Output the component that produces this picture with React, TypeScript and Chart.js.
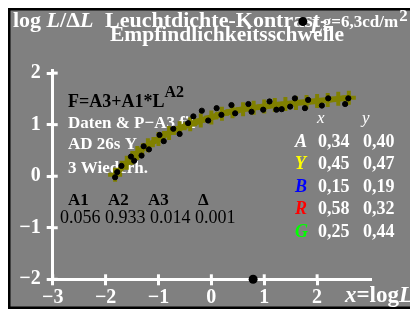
import React, { useEffect, useRef } from "react";
import { Chart, registerables } from "chart.js";

Chart.register(...registerables);

// ---- data ----
const curveX = [-1.82, -1.6, -1.4, -1.2, -1.0, -0.8, -0.6, -0.4, -0.2, 0.0, 0.2, 0.4, 0.6, 0.8, 1.0, 1.2, 1.4, 1.6, 1.8, 2.0, 2.2, 2.4, 2.6];
const curveY = [0.03, 0.26, 0.45, 0.6, 0.72, 0.84, 0.93, 1.01, 1.08, 1.14, 1.21, 1.26, 1.3, 1.33, 1.35, 1.38, 1.4, 1.42, 1.44, 1.46, 1.48, 1.5, 1.52];

const dotX = [-1.82, -1.78, -1.7, -1.52, -1.46, -1.32, -1.28, -1.18, -0.98, -0.9, -0.72, -0.6, -0.44, -0.34, -0.18, -0.06, 0.1, 0.19, 0.38, 0.45, 0.7, 0.76, 0.98, 1.1, 1.23, 1.33, 1.49, 1.58, 1.77, 1.83, 2.09, 2.21, 2.53, 2.59];
const dotY = [-0.02, 0.08, 0.2, 0.38, 0.3, 0.4, 0.58, 0.52, 0.8, 0.68, 0.92, 0.82, 1.03, 1.16, 1.27, 1.08, 1.32, 1.19, 1.38, 1.22, 1.4, 1.25, 1.29, 1.45, 1.29, 1.3, 1.35, 1.51, 1.32, 1.48, 1.37, 1.51, 1.4, 1.51];

const markX = [1.73, 0.79];
const markY = [3.0, -2.0];

const xTicks = [-3, -2, -1, 0, 1, 2];
const yTicks = [-2, -1, 0, 1, 2];

const paramNames = ["A1", "A2", "A3", "Δ"];
const paramValues = ["0.056", "0.933", "0.014", "0.001"];

const rowLabels = ["A", "Y", "B", "R", "G"];
const rowColors = ["#ffffff", "#ffff00", "#0000ff", "#ff0000", "#00ff00"];
const rowXValues = ["0,34", "0,45", "0,15", "0,58", "0,25"];
const rowYValues = ["0,40", "0,47", "0,19", "0,32", "0,44"];

const SERIF = '"Liberation Serif", "Times New Roman", serif';
const W = 410;
const H = 301;

type Part = [string, string, string];

function run(ctx: CanvasRenderingContext2D, parts: Part[], x: number, y: number) {
  let cx = x;
  for (const [t, f, c] of parts) {
    ctx.font = f;
    ctx.fillStyle = c;
    ctx.fillText(t, cx, y);
    cx += ctx.measureText(t).width;
  }
  return cx;
}

const fmt = (v: number) => (v < 0 ? "\u2212" + Math.abs(v) : String(v));

const framePlugin = {
  id: "frame",
  beforeDraw(chart: any) {
    const ctx = chart.ctx as CanvasRenderingContext2D;
    ctx.save();
    ctx.fillStyle = "#000000";
    ctx.fillRect(0, 0, W, H);
    ctx.fillStyle = "#808080";
    ctx.fillRect(2.5, 2.5, W - 5, H - 5);
    ctx.restore();
  },
  beforeDatasetsDraw(chart: any) {
    const ctx = chart.ctx as CanvasRenderingContext2D;
    const xs = chart.scales.x;
    const ys = chart.scales.y;
    ctx.save();
    ctx.strokeStyle = "#ffffff";
    ctx.lineWidth = 3;
    const ca = chart.chartArea;
    for (const v of xTicks) {
      const px = xs.getPixelForValue(v);
      ctx.beginPath();
      ctx.moveTo(px, ca.bottom);
      ctx.lineTo(px, ca.bottom - 5);
      ctx.stroke();
    }
    for (const v of yTicks) {
      const py = ys.getPixelForValue(v);
      ctx.beginPath();
      ctx.moveTo(ca.left, py);
      ctx.lineTo(ca.left + 5, py);
      ctx.stroke();
    }

    ctx.textBaseline = "alphabetic";
    ctx.textAlign = "left";
    const W_ = "#ffffff";
    const K = "#000000";
    const b22 = `bold 22px ${SERIF}`;
    const bi22 = `italic bold 22px ${SERIF}`;

    run(ctx, [["log ", b22, W_], ["L", bi22, W_], ["/\u0394", b22, W_], ["L", bi22, W_]], 5, 19);
    run(ctx, [["Leuchtdichte-Kontrast-", b22, W_]], 97, 19);
    run(ctx, [["Empfindlichkeitsschwelle", `bold 21.5px ${SERIF}`, W_]], 102, 33);

    const e = run(ctx, [["L", `italic bold 21px ${SERIF}`, W_]], 302, 25);
    const e2 = run(ctx, [["g=6,3cd/m", `bold 17px ${SERIF}`, W_]], e, 19);
    run(ctx, [["2", `bold 17px ${SERIF}`, W_]], e2 + 1, 13);

    const f = run(ctx, [["F=A3+A1*L", `bold 18px ${SERIF}`, K]], 60, 99);
    run(ctx, [["A2", `bold 16px ${SERIF}`, K]], f, 89);

    const b17 = `bold 17px ${SERIF}`;
    run(ctx, [["Daten & P\u2212A3 fit", b17, W_]], 60, 120);
    run(ctx, [["AD 26s Y", b17, W_]], 60, 141);
    run(ctx, [["3 Wiederh.", b17, W_]], 60, 165);

    const pX = [60, 100, 140, 190];
    paramNames.forEach((n, i) => run(ctx, [[n, b17, K]], pX[i], 197));
    run(ctx, [[paramValues.join(" "), `18px ${SERIF}`, K]], 52, 215);

    const i17 = `italic 17px ${SERIF}`;
    run(ctx, [["x", i17, W_]], 309, 115);
    run(ctx, [["y", i17, W_]], 354, 115);
    const rowBase = [139, 161, 184, 206, 229];
    const b18 = `bold 18px ${SERIF}`;
    const bi18 = `italic bold 18px ${SERIF}`;
    rowLabels.forEach((l, i) => {
      run(ctx, [[l, bi18, rowColors[i]]], 287, rowBase[i]);
      run(ctx, [[rowXValues[i], b18, W_]], 310, rowBase[i]);
      run(ctx, [[rowYValues[i], b18, W_]], 355, rowBase[i]);
    });

    const b24 = `bold 23px ${SERIF}`;
    const bi24 = `italic bold 23px ${SERIF}`;
    run(ctx, [["x", bi24, W_], ["=log", b24, W_], ["L", bi24, W_]], 337, 294);
    ctx.restore();
  },
  afterDatasetsDraw(chart: any) {
    // reference marks (may lie outside the plot area)
    const ctx = chart.ctx as CanvasRenderingContext2D;
    const xs = chart.scales.x;
    const ys = chart.scales.y;
    ctx.save();
    ctx.fillStyle = "#000000";
    markX.forEach((mx, i) => {
      ctx.beginPath();
      ctx.arc(xs.getPixelForValue(mx), ys.getPixelForValue(markY[i]), 4.5, 0, Math.PI * 2);
      ctx.fill();
    });
    ctx.restore();
  },
};

export default function App() {
  const ref = useRef<HTMLCanvasElement | null>(null);
  useEffect(() => {
    if (!ref.current) return;
    const chart = new Chart(ref.current, {
      type: "scatter",
      data: {
        datasets: [
          {
            label: "data",
            data: dotX.map((x, i) => ({ x, y: dotY[i] })),
            backgroundColor: "#000000",
            borderColor: "#000000",
            pointRadius: 2.6,
            showLine: false,
            order: 1,
          },
          {
            label: "fit",
            data: curveX.map((x, i) => ({ x, y: curveY[i] })),
            showLine: true,
            borderColor: "#808000",
            backgroundColor: "#808000",
            borderWidth: 6,
            pointStyle: "cross",
            pointRadius: 7,
            pointBorderWidth: 4,
            pointBorderColor: "#808000",
            tension: 0.3,
            order: 2,
          },
        ],
      },
      options: {
        animation: false,
        responsive: false,
        maintainAspectRatio: false,
        devicePixelRatio: 1,
        layout: { padding: { left: 0, top: 62, right: 48, bottom: 0 } },
        plugins: { legend: { display: false }, tooltip: { enabled: false }, title: { display: false } },
        scales: {
          x: {
            type: "linear",
            min: -3,
            max: 3,
            afterBuildTicks: (s: any) => {
              s.ticks = xTicks.map((v) => ({ value: v }));
            },
            afterFit: (s: any) => {
              s.height = 29.7;
            },
            ticks: {
              color: "#ffffff",
              font: { family: SERIF, size: 20, weight: "bold" },
              padding: 1,
              maxRotation: 0,
              autoSkip: false,
              callback: (v: any) => fmt(Number(v)),
            },
            grid: { display: true, drawOnChartArea: false, drawTicks: true, tickLength: 6, color: "#ffffff", lineWidth: 3 },
            border: { display: true, color: "#ffffff", width: 3 },
          },
          y: {
            type: "linear",
            min: -2,
            max: 2.06,
            afterBuildTicks: (s: any) => {
              s.ticks = yTicks.map((v) => ({ value: v }));
            },
            afterFit: (s: any) => {
              s.width = 44.7;
            },
            ticks: {
              color: "#ffffff",
              font: { family: SERIF, size: 20, weight: "bold" },
              padding: 6,
              autoSkip: false,
              callback: (v: any) => fmt(Number(v)),
            },
            grid: { display: true, drawOnChartArea: false, drawTicks: true, tickLength: 6, color: "#ffffff", lineWidth: 3 },
            border: { display: true, color: "#ffffff", width: 3 },
          },
        },
      },
      plugins: [framePlugin],
    });
    return () => chart.destroy();
  }, []);
  return <canvas ref={ref} width={W} height={H} style={{ display: "block", width: W, height: H }} />;
}
